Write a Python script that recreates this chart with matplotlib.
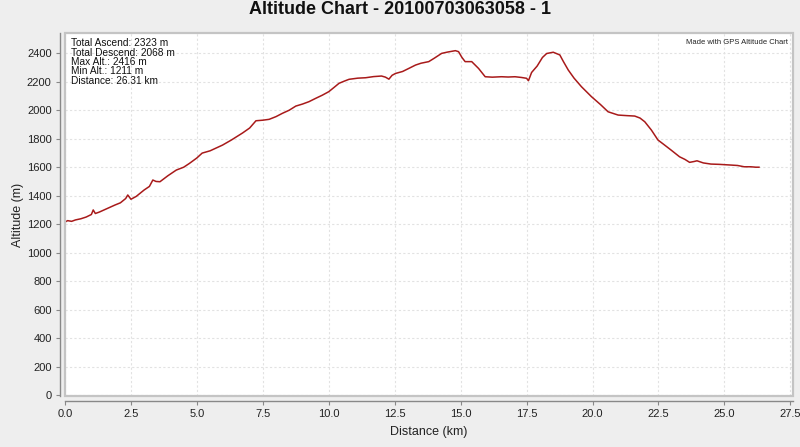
import matplotlib
matplotlib.use("Agg")
import matplotlib.pyplot as plt
from matplotlib.patches import Rectangle

# ---- data ----
distance_km = [0.0, 0.1, 0.25, 0.4, 0.6, 0.8, 1.0, 1.07, 1.15, 1.3, 1.6, 1.9, 2.1, 2.3, 2.38,
               2.5, 2.7, 3.0, 3.2, 3.33, 3.45, 3.6, 3.9, 4.22, 4.5, 4.72, 5.0, 5.2, 5.5, 5.97,
               6.3, 6.73, 7.0, 7.24, 7.5, 7.74, 8.0, 8.24, 8.5, 8.75, 9.0, 9.25, 9.5, 9.75,
               10.0, 10.2, 10.39, 10.6, 10.77, 11.1, 11.4, 11.7, 12.0, 12.15, 12.28, 12.4,
               12.53, 12.8, 13.03, 13.29, 13.5, 13.79, 14.0, 14.28, 14.5, 14.8, 14.92, 15.05,
               15.17, 15.42, 15.68, 15.93, 16.2, 16.55, 16.8, 17.06, 17.3, 17.5, 17.57, 17.69,
               17.9, 18.1, 18.26, 18.51, 18.76, 18.9, 19.08, 19.3, 19.58, 19.96, 20.3, 20.59,
               20.97, 21.3, 21.6, 21.8, 21.98, 22.23, 22.48, 22.7, 22.98, 23.3, 23.5, 23.68,
               23.85, 23.96, 24.2, 24.49, 24.8, 25.25, 25.5, 25.75, 26.0, 26.19, 26.31]
altitude_m = [1215, 1225, 1220, 1230, 1238, 1250, 1268, 1300, 1275, 1285, 1310, 1335, 1350, 1380, 1405,
              1375, 1395, 1440, 1465, 1510, 1500, 1498, 1540, 1580, 1600, 1627, 1665, 1699, 1715, 1755,
              1790, 1840, 1875, 1926, 1930, 1936, 1955, 1978, 2000, 2029, 2043, 2060, 2083, 2105,
              2130, 2160, 2189, 2205, 2217, 2225, 2228, 2236, 2240, 2232, 2218, 2245,
              2258, 2272, 2293, 2317, 2330, 2341, 2365, 2399, 2408, 2418, 2411, 2370,
              2341, 2341, 2293, 2235, 2232, 2235, 2233, 2235, 2230, 2224, 2207, 2265,
              2310, 2370, 2398, 2407, 2388, 2340, 2282, 2225, 2165, 2095, 2040, 1989,
              1966, 1962, 1959, 1945, 1919, 1861, 1791, 1760, 1720, 1673, 1655, 1634,
              1640, 1645, 1630, 1622, 1620, 1615, 1612, 1603, 1603, 1600, 1600]

x_ticks = [0.0, 2.5, 5.0, 7.5, 10.0, 12.5, 15.0, 17.5, 20.0, 22.5, 25.0, 27.5]
y_ticks = [0, 200, 400, 600, 800, 1000, 1200, 1400, 1600, 1800, 2000, 2200, 2400]

title = "Altitude Chart - 20100703063058 - 1"
info_lines = ["Total Ascend: 2323 m", "Total Descend: 2068 m", "Max Alt.: 2416 m",
              "Min Alt.: 1211 m", "Distance: 26.31 km"]
credit = "Made with GPS Altitude Chart"

plt.rcParams['font.family'] = ['Liberation Sans', 'DejaVu Sans']

W, H = 800, 447
fig = plt.figure(figsize=(W / 100, H / 100), dpi=100)
fig.patch.set_facecolor('#eeeeee')

left, right, top, bottom = 65, 793, 33, 396
ax = fig.add_axes([left / W, 1 - bottom / H, (right - left) / W, (bottom - top) / H])
ax.set_facecolor('white')

ax.plot(distance_km, altitude_m, color='#a81a1a', lw=1.1, solid_joinstyle='round', zorder=3)

ax.set_xlim(0, 27.6)
ax.set_ylim(-6, 2542)
ax.set_xticks(x_ticks)
ax.set_xticklabels([f"{v:.1f}" for v in x_ticks])
ax.set_yticks(y_ticks)
ax.set_yticklabels([str(v) for v in y_ticks])

ax.grid(True, color='#e2e2e2', linestyle=(0, (2, 2)), lw=0.8, zorder=0)

for s in ('top', 'right'):
    ax.spines[s].set_visible(False)
for s in ('left', 'bottom'):
    ax.spines[s].set_position(('outward', 3.6))
    ax.spines[s].set_color('#888888')
    ax.spines[s].set_linewidth(1.0)

ax.add_patch(Rectangle((0, 0), 1, 1, transform=ax.transAxes, fill=False,
                       edgecolor='#c4c4c4', lw=1.6, clip_on=False, zorder=4))

ax.tick_params(axis='both', direction='out', length=3, width=0.8, color='#888888',
               labelsize=8, labelcolor='#222222', pad=3)

ax.set_xlabel("Distance (km)", fontsize=9, color='#222222', labelpad=5)
ax.set_ylabel("Altitude (m)", fontsize=9, color='#222222', labelpad=2)

fig.text(0.5, 1 - 10 / H, title, ha='center', va='center', fontsize=13, fontweight='bold',
         color='#111111')

for i, line in enumerate(info_lines):
    fig.text(71 / W, 1 - (43 + i * 9.5) / H, line, ha='left', va='center', fontsize=7.3,
             color='#111111')

fig.text(788 / W, 1 - 42 / H, credit, ha='right', va='center', fontsize=5.5, color='#222222')

fig.savefig("out.png", dpi=100, facecolor=fig.get_facecolor())
